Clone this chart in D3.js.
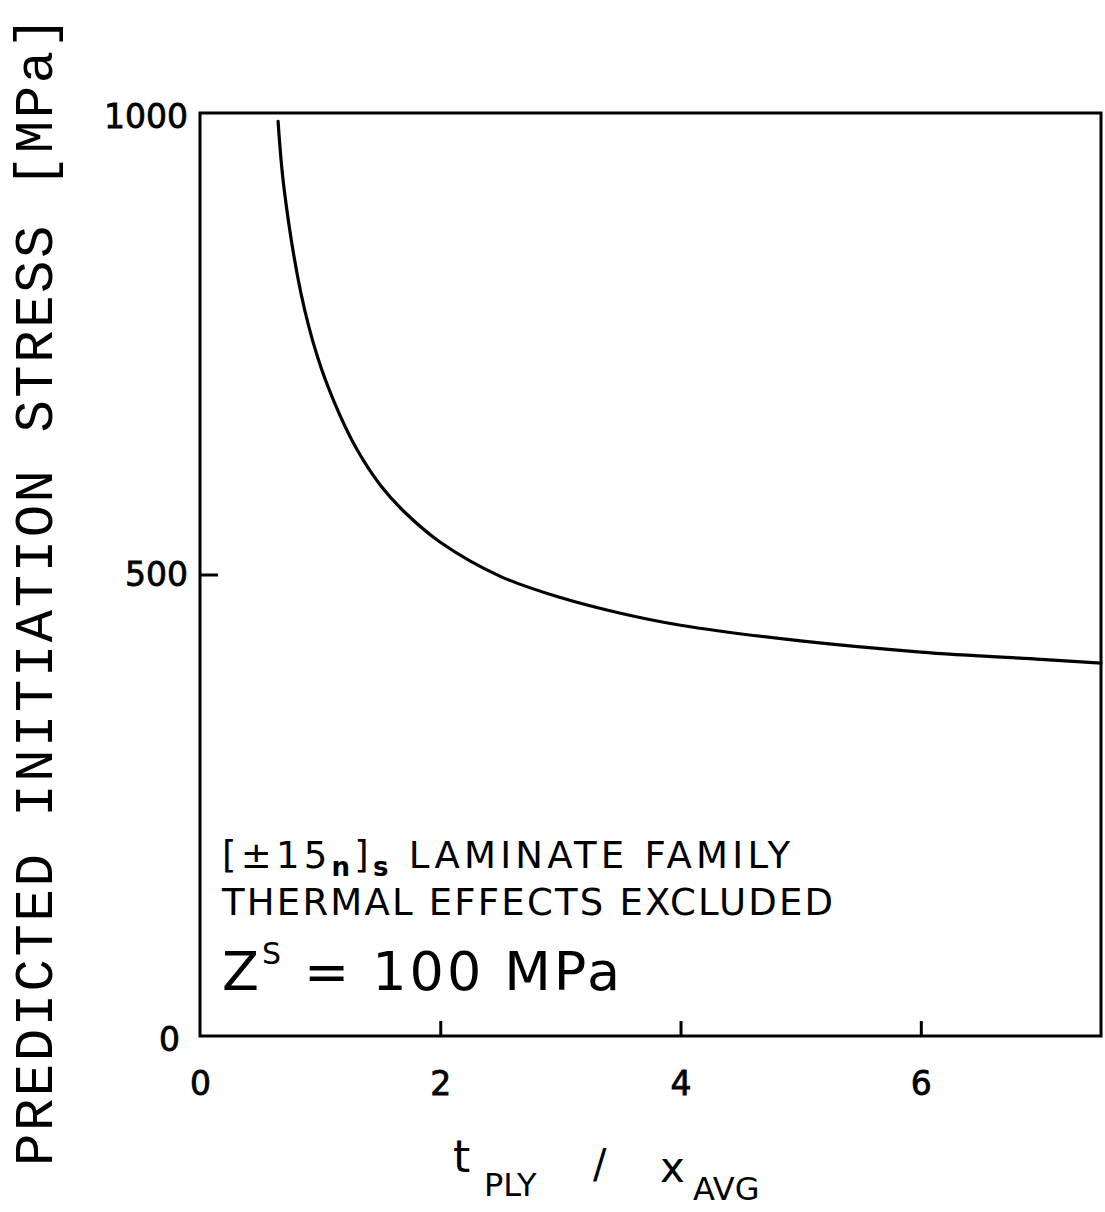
<!DOCTYPE html>
<html>
<head>
<meta charset="utf-8">
<script src="https://cdn.jsdelivr.net/npm/d3@7"></script>
<style>
  body { margin: 0; background: #fff; }
  svg text { fill: #000; }
</style>
</head>
<body>
<div id="chart"></div>
<script>
// values
const plyRatio = [0.65, 0.70, 0.84, 0.98, 1.12, 1.3, 1.5, 1.7, 2.0, 2.5, 3.0, 3.5, 4.0, 5.0, 6.0, 7.0, 7.5];
const initStress = [991, 918, 805, 735, 686, 637, 597, 568, 535, 498, 475, 458, 445, 428, 416, 408, 404];
const xTicks = [0, 2, 4, 6];
const yTicks = [0, 500, 1000];

const W = 1105, H = 1212;
const plotLeft = 200, plotRight = 1101, plotTop = 113, plotBottom = 1036;

const svg = d3.select("#chart").append("svg")
  .attr("width", W)
  .attr("height", H);

const x = d3.scaleLinear().domain([0, 7.5]).range([plotLeft, plotRight]);
const y = d3.scaleLinear().domain([0, 1000]).range([plotBottom, plotTop]);

const tickFont = "'DejaVu Sans', sans-serif";

// frame
svg.append("rect")
  .attr("x", plotLeft).attr("y", plotTop)
  .attr("width", plotRight - plotLeft).attr("height", plotBottom - plotTop)
  .attr("fill", "none").attr("stroke", "#000").attr("stroke-width", 3);

// x axis, ticks pointing inward
const xAxis = svg.append("g")
  .attr("transform", "translate(0," + plotBottom + ")")
  .call(d3.axisBottom(x).tickValues(xTicks).tickFormat(d3.format("d"))
    .tickSizeInner(-15).tickSizeOuter(0).tickPadding(36));
xAxis.select(".domain").remove();
xAxis.selectAll(".tick line").attr("stroke", "#000").attr("stroke-width", 3)
  .attr("display", d => d === 0 ? "none" : null);
xAxis.selectAll(".tick text")
  .attr("font-family", tickFont).attr("font-size", 33)
  .attr("stroke", "#000").attr("stroke-width", 0.8);

// y axis, ticks pointing inward
const yAxis = svg.append("g")
  .attr("transform", "translate(" + plotLeft + ",0)")
  .call(d3.axisLeft(y).tickValues(yTicks).tickFormat(d3.format("d"))
    .tickSizeInner(-18).tickSizeOuter(0).tickPadding(12));
yAxis.select(".domain").remove();
yAxis.selectAll(".tick line").attr("stroke", "#000").attr("stroke-width", 3)
  .attr("display", d => d === 500 ? null : "none");
yAxis.selectAll(".tick text")
  .attr("font-family", tickFont).attr("font-size", 33)
  .attr("stroke", "#000").attr("stroke-width", 0.8)
  .attr("dx", d => d === 0 ? -8 : 0)
  .attr("dy", d => d === 0 ? "0.45em" : (d === 1000 ? "0.45em" : "0.32em"));

// the curve
const pts = plyRatio.map((t, i) => [t, initStress[i]]);
const line = d3.line()
  .x(d => x(d[0]))
  .y(d => y(d[1]))
  .curve(d3.curveCatmullRom.alpha(0.5));

svg.append("path")
  .datum(pts)
  .attr("fill", "none")
  .attr("stroke", "#000")
  .attr("stroke-width", 3.2)
  .attr("stroke-linejoin", "round")
  .attr("stroke-linecap", "round")
  .attr("d", line);

// annotation
const noteFont = "'DejaVu Sans', sans-serif";
const n1 = svg.append("text")
  .attr("x", 222).attr("y", 868)
  .attr("font-family", noteFont).attr("font-size", 37)
  .attr("textLength", 568).attr("lengthAdjust", "spacing");
n1.append("tspan").text("[\u00B115");
n1.append("tspan").attr("font-size", 26).attr("dy", 8).attr("font-weight", "bold").text("n");
n1.append("tspan").attr("dy", -8).text("]");
n1.append("tspan").attr("font-size", 26).attr("dy", 8).attr("font-weight", "bold").text("s");
n1.append("tspan").attr("dy", -8).text(" LAMINATE FAMILY");

svg.append("text")
  .attr("x", 222).attr("y", 915)
  .attr("font-family", noteFont).attr("font-size", 37)
  .attr("textLength", 611).attr("lengthAdjust", "spacing")
  .text("THERMAL EFFECTS EXCLUDED");

const n3 = svg.append("text")
  .attr("x", 222).attr("y", 990)
  .attr("font-family", noteFont).attr("font-size", 54)
  .attr("textLength", 398).attr("lengthAdjust", "spacing");
n3.append("tspan").text("Z");
n3.append("tspan").attr("font-size", 30).attr("dy", -26).text("S");
n3.append("tspan").attr("dy", 26).text(" = 100 MPa");

// x axis title
const xTitle = svg.append("g").attr("font-family", noteFont);
xTitle.append("text").attr("x", 453).attr("y", 1172).attr("font-size", 44).text("t");
xTitle.append("text").attr("x", 484).attr("y", 1196).attr("font-size", 32).text("PLY");
xTitle.append("text").attr("x", 593).attr("y", 1178).attr("font-size", 40).text("/");
xTitle.append("text").attr("x", 660).attr("y", 1182).attr("font-size", 42).text("x");
xTitle.append("text").attr("x", 693).attr("y", 1200).attr("font-size", 32).text("AVG");

// y axis title
svg.append("text")
  .attr("transform", "translate(52,1166) rotate(-90)")
  .attr("font-family", "'Liberation Mono', monospace")
  .attr("font-size", 54)
  .attr("textLength", 1150).attr("lengthAdjust", "spacing")
  .text("PREDICTED INITIATION STRESS [MPa]");
</script>
</body>
</html>
